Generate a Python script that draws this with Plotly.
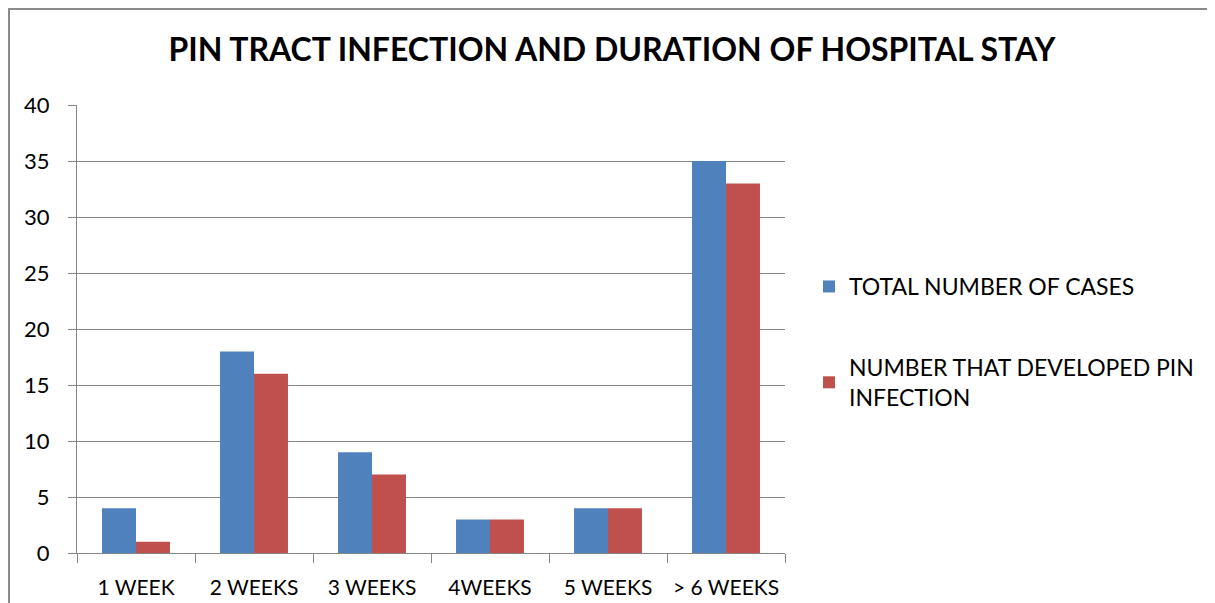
import plotly.graph_objects as go

categories = ["1 WEEK", "2 WEEKS", "3 WEEKS", "4WEEKS", "5 WEEKS", "> 6 WEEKS"]
total_cases = [4, 18, 9, 3, 4, 35]
pin_infection = [1, 16, 7, 3, 4, 33]
series_names = ["TOTAL NUMBER OF CASES", "NUMBER THAT DEVELOPED PIN<br>INFECTION"]
y_ticks = [0, 5, 10, 15, 20, 25, 30, 35, 40]

FONT = "Lato"
W, H = 1215, 603
OFF = 8  # page body margin
L, R, T, B = 77 - OFF, 785 - OFF, 105 - OFF, 553 - OFF
pw, ph = R - L, B - T

def px_x(x):
    return (x - L) / pw

def px_y(y):
    return (B - y) / ph

fig = go.Figure()
fig.add_trace(go.Bar(x=categories, y=total_cases, name=series_names[0],
                     marker=dict(color="#4F81BD", line=dict(width=0)),
                     legendgroup="a"))
fig.add_trace(go.Bar(x=categories, y=pin_infection, name=series_names[1],
                     marker=dict(color="#C0504D", line=dict(width=0)),
                     legendgroup="b"))

gray = "#868686"
fig.update_layout(
    width=W, height=H,
    margin=dict(l=L, r=W - R, t=T, b=H - B, autoexpand=False),
    paper_bgcolor="white", plot_bgcolor="white",
    barmode="group", bargap=0.424, bargroupgap=0,
    font=dict(family=FONT, size=22, color="black"),
    title=dict(text="<b>PIN TRACT INFECTION AND DURATION OF HOSPITAL STAY</b>",
               x=(612 - OFF) / W, xanchor="center", xref="container",
               y=1 - (50 - OFF) / H, yanchor="middle", yref="container",
               font=dict(family=FONT, size=32, color="black")),
    xaxis=dict(showline=True, linecolor=gray, linewidth=1, automargin=False,
               ticks="outside", tickson="boundaries", ticklen=9, tickcolor=gray,
               tickangle=0,
               showgrid=False, tickfont=dict(size=21), ticklabelstandoff=16),
    yaxis=dict(range=[0, 40], tickvals=y_ticks, showline=True, linecolor=gray, linewidth=1,
               automargin=False,
               ticks="outside", ticklen=8, tickcolor=gray,
               showgrid=True, gridcolor=gray, gridwidth=1, zeroline=False,
               tickfont=dict(size=22), ticklabelstandoff=14),
    legend=dict(x=px_x(809 - OFF), y=px_y(265 - OFF), xanchor="left", yanchor="top",
                traceorder="grouped", tracegroupgap=48,
                font=dict(size=23), itemwidth=30, bgcolor="rgba(0,0,0,0)"),
    showlegend=True,
)

# outer chart frame (left and top edges)
fig.add_shape(type="line", xref="paper", yref="paper",
              x0=px_x(1), x1=px_x(1), y0=px_y(0), y1=px_y(H + 5),
              line=dict(color="#8a8a8a", width=2))
fig.add_shape(type="line", xref="paper", yref="paper",
              x0=px_x(0), x1=px_x(W + 5), y0=px_y(1), y1=px_y(1),
              line=dict(color="#8a8a8a", width=2))

fig.write_html("out.html")
